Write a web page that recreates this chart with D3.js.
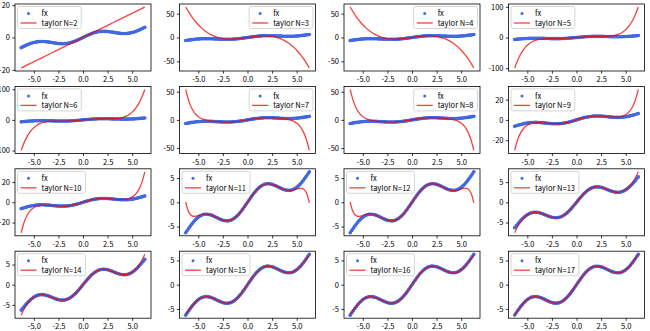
<!DOCTYPE html>
<html><head><meta charset="utf-8">
<script src="https://cdn.jsdelivr.net/npm/d3@7/dist/d3.min.js"></script>
<style>
body{margin:0;background:#fff}
svg{display:block}
text{font-family:"Noto Sans CJK SC","Noto Sans",sans-serif}
</style>
</head><body>
<svg id="chart" width="650" height="331"></svg>
<script>
// ---- data ----
const fxX = [-6.283,-6.126,-5.969,-5.812,-5.655,-5.498,-5.341,-5.184,-5.027,-4.869,-4.712,-4.555,-4.398,-4.241,-4.084,-3.927,-3.770,-3.613,-3.456,-3.299,-3.142,-2.985,-2.827,-2.670,-2.513,-2.356,-2.199,-2.042,-1.885,-1.728,-1.571,-1.414,-1.257,-1.100,-0.942,-0.785,-0.628,-0.471,-0.314,-0.157,0,0.157,0.314,0.471,0.628,0.785,0.942,1.100,1.257,1.414,1.571,1.728,1.885,2.042,2.199,2.356,2.513,2.670,2.827,2.985,3.142,3.299,3.456,3.613,3.770,3.927,4.084,4.241,4.398,4.555,4.712,4.869,5.027,5.184,5.341,5.498,5.655,5.812,5.969,6.126,6.283];
const fxY = [-6.283,-5.813,-5.351,-4.904,-4.479,-4.084,-3.723,-3.402,-3.124,-2.894,-2.712,-2.580,-2.496,-2.459,-2.466,-2.513,-2.594,-2.705,-2.838,-2.986,-3.142,-3.297,-3.445,-3.578,-3.689,-3.770,-3.817,-3.824,-3.787,-3.703,-3.571,-3.389,-3.159,-2.882,-2.561,-2.200,-1.804,-1.379,-0.932,-0.470,0,0.470,0.932,1.379,1.804,2.200,2.561,2.882,3.159,3.389,3.571,3.703,3.787,3.824,3.817,3.770,3.689,3.578,3.445,3.297,3.142,2.986,2.838,2.705,2.594,2.513,2.466,2.459,2.496,2.580,2.712,2.894,3.124,3.402,3.723,4.084,4.479,4.904,5.351,5.813,6.283];

const taylorX = [-6.283,-5.969,-5.655,-5.341,-5.027,-4.712,-4.398,-4.084,-3.770,-3.456,-3.142,-2.827,-2.513,-2.199,-1.885,-1.571,-1.257,-0.942,-0.628,-0.314,0,0.314,0.628,0.942,1.257,1.571,1.885,2.199,2.513,2.827,3.142,3.456,3.770,4.084,4.398,4.712,5.027,5.341,5.655,5.969,6.283];

const taylorDeg1 = [-18.850,-17.907,-16.965,-16.022,-15.080,-14.137,-13.195,-12.252,-11.310,-10.367,-9.425,-8.482,-7.540,-6.597,-5.655,-4.712,-3.770,-2.827,-1.885,-0.942,0,0.942,1.885,2.827,3.770,4.712,5.655,6.597,7.540,8.482,9.425,10.367,11.310,12.252,13.195,14.137,15.080,16.022,16.965,17.907,18.850];
const taylorDeg3 = [63.834,52.984,43.312,34.756,27.254,20.745,15.166,10.455,6.550,3.389,0.911,-0.948,-2.248,-3.052,-3.422,-3.420,-3.108,-2.548,-1.802,-0.932,0,0.932,1.802,2.548,3.108,3.420,3.422,3.052,2.248,0.948,-0.911,-3.389,-6.550,-10.455,-15.166,-20.745,-27.254,-34.756,-43.312,-52.984,-63.834];
const taylorDeg5 = [-99.377,-73.306,-53.063,-37.662,-26.227,-17.986,-12.265,-8.482,-6.141,-4.825,-4.190,-3.959,-3.919,-3.910,-3.819,-3.580,-3.161,-2.561,-1.804,-0.932,0,0.932,1.804,2.561,3.161,3.580,3.819,3.910,3.919,3.959,4.190,4.825,6.141,8.482,12.265,17.986,26.227,37.662,53.063,73.306,99.377];
const taylorDeg7 = [54.035,33.828,20.314,11.519,5.946,2.492,0.369,-0.962,-1.847,-2.489,-2.991,-3.386,-3.668,-3.811,-3.785,-3.570,-3.159,-2.561,-1.804,-0.932,0,0.932,1.804,2.561,3.159,3.570,3.785,3.811,3.668,3.386,2.991,2.489,1.847,0.962,-0.369,-2.492,-5.946,-11.519,-20.314,-33.828,-54.035];
const taylorDeg9 = [-30.082,-19.187,-12.275,-7.964,-5.344,-3.824,-3.025,-2.704,-2.695,-2.877,-3.155,-3.450,-3.690,-3.817,-3.787,-3.571,-3.159,-2.561,-1.804,-0.932,0,0.932,1.804,2.561,3.159,3.571,3.787,3.817,3.690,3.450,3.155,2.877,2.695,2.704,3.025,3.824,5.344,7.964,12.275,19.187,30.082];
const taylorDeg11 = [0.107,-2.016,-2.801,-2.912,-2.751,-2.549,-2.428,-2.440,-2.585,-2.835,-3.141,-3.445,-3.689,-3.817,-3.787,-3.571,-3.159,-2.561,-1.804,-0.932,0,0.932,1.804,2.561,3.159,3.571,3.787,3.817,3.689,3.445,3.141,2.835,2.585,2.440,2.428,2.549,2.751,2.912,2.801,2.016,-0.107];
const taylorDeg13 = [-7.533,-5.938,-4.743,-3.836,-3.171,-2.730,-2.502,-2.468,-2.595,-2.838,-3.142,-3.445,-3.689,-3.817,-3.787,-3.571,-3.159,-2.561,-1.804,-0.932,0,0.932,1.804,2.561,3.159,3.571,3.787,3.817,3.689,3.445,3.142,2.838,2.595,2.468,2.502,2.730,3.171,3.836,4.743,5.938,7.533];
const taylorDeg15 = [-6.097,-5.272,-4.448,-3.711,-3.120,-2.711,-2.496,-2.466,-2.594,-2.838,-3.142,-3.445,-3.689,-3.817,-3.787,-3.571,-3.159,-2.561,-1.804,-0.932,0,0.932,1.804,2.561,3.159,3.571,3.787,3.817,3.689,3.445,3.142,2.838,2.594,2.466,2.496,2.711,3.120,3.711,4.448,5.272,6.097];
const taylorDeg17 = [-6.305,-5.359,-4.482,-3.724,-3.125,-2.712,-2.496,-2.466,-2.594,-2.838,-3.142,-3.445,-3.689,-3.817,-3.787,-3.571,-3.159,-2.561,-1.804,-0.932,0,0.932,1.804,2.561,3.159,3.571,3.787,3.817,3.689,3.445,3.142,2.838,2.594,2.466,2.496,2.712,3.125,3.724,4.482,5.359,6.305];

const panelN = [2,3,4,5,6,7,8,9,10,11,12,13,14,15,16,17];
const panelDegree = [1,3,3,5,5,7,7,9,9,11,11,13,13,15,15,17];
const xTicks = [-5,-2.5,0,2.5,5];
const yTicksByPanel = [[-20,0,20],[-50,0,50],[-50,0,50],[-100,0,100],[-100,0,100],[-50,0,50],[-50,0,50],[-20,0,20],[-20,0,20],[-5,0,5],[-5,0,5],[-5,0,5],[-5,0,5],[-5,0,5],[-5,0,5],[-5,0,5]];
const fxLabel = "fx";
const taylorLabelPrefix = "taylor N=";

// ---- drawing ----
const taylorByDegree = {1:taylorDeg1,3:taylorDeg3,5:taylorDeg5,7:taylorDeg7,9:taylorDeg9,11:taylorDeg11,13:taylorDeg13,15:taylorDeg15,17:taylorDeg17};
const svg = d3.select("#chart");
const W = 136, H = 67;
const colLeft = [15, 179.5, 344, 508.5];
const rowTop = [4, 86.4, 168.8, 251.2];
const FS = 7.5;
const BLUE = "#4169e1";
const FONT = '"Noto Sans CJK SC","Noto Sans",sans-serif';
const defs = svg.append("defs");

panelN.forEach((n, i) => {
  const col = i % 4, row = Math.floor(i / 4);
  const L = colLeft[col], T = rowTop[row], R = L + W, B = T + H;
  const ty = taylorByDegree[panelDegree[i]];

  const xe = d3.extent(fxX.concat(taylorX)); const xm = (xe[1] - xe[0]) * 0.05;
  const x = d3.scaleLinear().domain([xe[0] - xm, xe[1] + xm]).range([L, R]);
  const ye = d3.extent(fxY.concat(ty)); const ym = (ye[1] - ye[0]) * 0.05;
  const y = d3.scaleLinear().domain([ye[0] - ym, ye[1] + ym]).range([B, T]);

  const g = svg.append("g");
  const clipId = "clip" + i;
  defs.append("clipPath").attr("id", clipId).append("rect")
    .attr("x", L).attr("y", T).attr("width", W).attr("height", H);
  const plot = g.append("g").attr("clip-path", `url(#${clipId})`);

  const fxPts = fxX.map((v, j) => [v, fxY[j]]);
  const tPts = taylorX.map((v, j) => [v, ty[j]]);
  const line = d3.line().x(d => x(d[0])).y(d => y(d[1])).curve(d3.curveCatmullRom.alpha(0.5));

  plot.append("path").datum(fxPts).attr("d", line)
    .attr("fill", "none").attr("stroke", BLUE).attr("stroke-width", 2.6).attr("stroke-linecap", "round");
  plot.selectAll("circle").data(fxPts).join("circle")
    .attr("cx", d => x(d[0])).attr("cy", d => y(d[1])).attr("r", 1.8).attr("fill", BLUE);
  plot.append("path").datum(tPts).attr("d", line)
    .attr("fill", "none").attr("stroke", "#f00000").attr("stroke-opacity", 0.75).attr("stroke-width", 1.3);

  // frame
  g.append("rect").attr("x", L).attr("y", T).attr("width", W).attr("height", H)
    .attr("fill", "none").attr("stroke", "#000").attr("stroke-width", 0.8);

  // axes
  const xa = g.append("g").attr("transform", `translate(0,${B})`)
    .call(d3.axisBottom(x).tickValues(xTicks).tickFormat(d => d.toFixed(1)).tickSize(2.6).tickPadding(3.2));
  xa.select(".domain").remove();
  xa.attr("font-size", FS).attr("font-family", FONT);
  xa.selectAll("line").attr("stroke-width", 0.8);

  const yaxis = g.append("g").attr("transform", `translate(${L},0)`)
    .call(d3.axisLeft(y).tickValues(yTicksByPanel[i]).tickFormat(d => String(d)).tickSize(2.6).tickPadding(2.4));
  yaxis.select(".domain").remove();
  yaxis.attr("font-size", FS).attr("font-family", FONT);
  yaxis.selectAll("line").attr("stroke-width", 0.8);

  // legend (matplotlib-like "best" placement)
  const lg = g.append("g");
  const frame = lg.append("rect");
  const t2 = lg.append("text").attr("font-size", FS).attr("fill", "#000").text(taylorLabelPrefix + n);
  const tw = t2.node().getComputedTextLength();
  const lw = 24 + tw + 4, lh = 22, pad = 2.5;
  const pts = fxPts.concat(tPts).map(d => [x(d[0]), y(d[1])]);
  const cands = [[R - pad - lw, T + pad], [L + pad, T + pad], [L + pad, B - pad - lh], [R - pad - lw, B - pad - lh]];
  let best = cands[0], bad = Infinity;
  cands.forEach(c => {
    const cnt = pts.filter(p => p[0] >= c[0] && p[0] <= c[0] + lw && p[1] >= c[1] && p[1] <= c[1] + lh).length;
    if (cnt < bad) { bad = cnt; best = c; }
  });
  const [lx, ly] = best;
  frame.attr("x", lx).attr("y", ly).attr("width", lw).attr("height", lh).attr("rx", 2)
    .attr("fill", "#fff").attr("fill-opacity", 0.8).attr("stroke", "#cccccc").attr("stroke-width", 0.8);
  lg.append("circle").attr("cx", lx + 11).attr("cy", ly + 7).attr("r", 1.5).attr("fill", BLUE);
  lg.append("text").attr("font-size", FS).attr("fill", "#000").attr("x", lx + 24).attr("y", ly + 7 + 2.7).text(fxLabel);
  lg.append("line").attr("x1", lx + 3).attr("x2", lx + 19).attr("y1", ly + 16.5).attr("y2", ly + 16.5)
    .attr("stroke", "#f00000").attr("stroke-opacity", 0.75).attr("stroke-width", 1.3);
  t2.attr("x", lx + 24).attr("y", ly + 16.5 + 2.7).raise();
});
</script>
</body></html>
